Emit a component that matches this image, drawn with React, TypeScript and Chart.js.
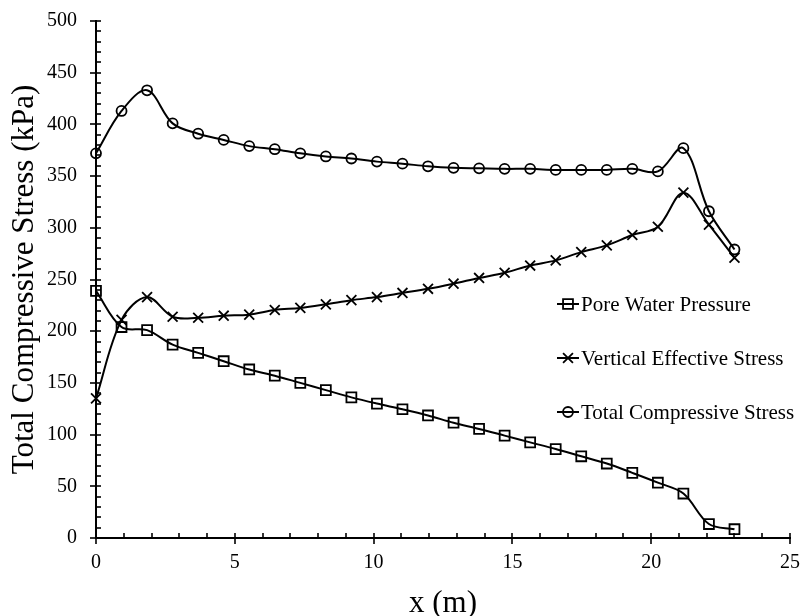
import React, { useEffect, useRef } from "react";
import { Chart, registerables } from "chart.js";

Chart.register(...registerables);

// Distance along the section (m)
const xPositions = [
  0, 0.92, 1.84, 2.76, 3.68, 4.6, 5.52, 6.44, 7.36, 8.28, 9.2, 10.12, 11.04,
  11.96, 12.88, 13.8, 14.72, 15.64, 16.56, 17.48, 18.4, 19.32, 20.24, 21.16,
  22.08, 23,
];

// Stresses (kPa)
const porePressure = [
  239, 204, 201, 187, 179, 171, 163, 157, 150, 143, 136, 130, 124.5, 118.5,
  111.5, 105.5, 99, 92.5, 86, 79, 72, 63, 53.5, 43, 13.5, 8.5,
];
const effectiveStress = [
  135, 211, 233, 214, 213, 215, 216, 220.5, 222.5, 226, 230, 233, 237, 241, 246,
  251.5, 256.5, 263.5, 268.5, 276.5, 283, 293, 301, 334, 303, 271,
];
const totalStress = [
  372, 413, 433, 401, 391, 385, 379, 376, 372, 369, 367, 364, 362, 359.5, 358,
  357.5, 357, 357, 356, 356, 356, 357, 354.5, 377, 316, 279,
];

const seriesNames = [
  "Pore Water Pressure",
  "Vertical Effective Stress",
  "Total Compressive Stress",
];

const xTickValues = [0, 5, 10, 15, 20, 25];
const yTickValues = [0, 50, 100, 150, 200, 250, 300, 350, 400, 450, 500];

const SERIF = '"Liberation Serif", "Times New Roman", serif';

const toPoints = (ys: number[]) => xPositions.map((x, i) => ({ x, y: ys[i] }));

// Same marker shapes as Chart.js uses for rect / crossRot / circle
function drawMarker(ctx: CanvasRenderingContext2D, style: string, r: number, x: number, y: number) {
  ctx.beginPath();
  if (style === "rect") {
    const s = Math.SQRT1_2 * r;
    ctx.rect(x - s, y - s, 2 * s, 2 * s);
  } else if (style === "crossRot") {
    const s = Math.SQRT1_2 * r;
    ctx.moveTo(x - s, y - s);
    ctx.lineTo(x + s, y + s);
    ctx.moveTo(x - s, y + s);
    ctx.lineTo(x + s, y - s);
  } else {
    ctx.arc(x, y, r, 0, Math.PI * 2);
  }
  ctx.stroke();
}

// Axis lines with crossing major ticks and inward minor ticks, plus the
// in-plot legend with line-through markers.
const axesAndLegend = {
  id: "axesAndLegend",
  afterDraw(chart: any) {
    const { ctx, chartArea } = chart;
    const xs = chart.scales.x;
    const ys = chart.scales.y;
    const left = chartArea.left;
    const bottom = chartArea.bottom;
    ctx.save();
    ctx.strokeStyle = "#000";
    ctx.lineCap = "butt";

    ctx.lineWidth = 1.6;
    for (let v = 0; v <= 25; v += 1) {
      const px = Math.round(xs.getPixelForValue(v));
      const major = v % 5 === 0;
      ctx.beginPath();
      ctx.moveTo(px, bottom - 5);
      ctx.lineTo(px, major ? bottom + 6 : bottom);
      ctx.stroke();
    }
    for (let v = 0; v <= 500; v += 10) {
      const py = Math.round(ys.getPixelForValue(v));
      const major = v % 50 === 0;
      ctx.beginPath();
      ctx.moveTo(major ? left - 6 : left, py);
      ctx.lineTo(left + 5, py);
      ctx.stroke();
    }

    ctx.lineWidth = 2;
    ctx.beginPath();
    ctx.moveTo(left, chartArea.top - 1);
    ctx.lineTo(left, bottom);
    ctx.lineTo(chartArea.right + 1, bottom);
    ctx.stroke();

    // legend
    const legendX = 568;
    const legendY = [304, 358, 412];
    chart.data.datasets.forEach((ds: any, i: number) => {
      const y = legendY[i];
      ctx.strokeStyle = "#000";
      ctx.lineWidth = 2;
      ctx.beginPath();
      ctx.moveTo(legendX - 11, y);
      ctx.lineTo(legendX + 11, y);
      ctx.stroke();
      ctx.lineWidth = ds.pointBorderWidth;
      drawMarker(ctx, ds.pointStyle, ds.pointRadius, legendX, y);
      ctx.fillStyle = "#000";
      ctx.font = `21px ${SERIF}`;
      ctx.textAlign = "left";
      ctx.textBaseline = "middle";
      ctx.fillText(ds.label, legendX + 13, y + 1);
    });
    ctx.restore();
  },
};

const lineDataset = (label: string, ys: number[], style: string, radius: number) => ({
  label,
  data: toPoints(ys),
  borderColor: "#000",
  borderWidth: 2,
  backgroundColor: "rgba(0,0,0,0)",
  pointStyle: style,
  pointRadius: radius,
  pointBorderColor: "#000",
  pointBackgroundColor: "rgba(0,0,0,0)",
  pointBorderWidth: 1.8,
  tension: 0.35,
  fill: false,
  clip: false,
});

export default function App() {
  const canvasRef = useRef<HTMLCanvasElement | null>(null);

  useEffect(() => {
    if (!canvasRef.current) return;
    const chart = new Chart(canvasRef.current, {
      type: "line",
      data: {
        datasets: [
          lineDataset(seriesNames[0], porePressure, "rect", 7),
          lineDataset(seriesNames[1], effectiveStress, "crossRot", 7),
          lineDataset(seriesNames[2], totalStress, "circle", 5),
        ],
      },
      plugins: [axesAndLegend],
      options: {
        animation: false,
        responsive: false,
        devicePixelRatio: 1,
        layout: { padding: { top: 21, right: 10, left: 0, bottom: 0 } },
        plugins: {
          legend: { display: false },
          tooltip: { enabled: false },
        },
        scales: {
          x: {
            type: "linear",
            min: 0,
            max: 25,
            afterFit: (s: any) => {
              s.height = 78;
              s.paddingLeft = 0;
              s.paddingRight = 0;
            },
            afterBuildTicks: (s: any) => {
              s.ticks = xTickValues.map((v) => ({ value: v }));
            },
            grid: { display: false, drawTicks: false },
            border: { display: false },
            ticks: {
              color: "#000",
              padding: 13,
              maxRotation: 0,
              font: { family: SERIF, size: 20 },
            },
            title: {
              display: true,
              text: "x (m)",
              color: "#000",
              font: { family: SERIF, size: 31, lineHeight: 0.8 },
              padding: 0,
            },
          },
          y: {
            type: "linear",
            min: 0,
            max: 500,
            afterFit: (s: any) => {
              s.width = 96;
              s.paddingTop = 0;
              s.paddingBottom = 0;
            },
            afterBuildTicks: (s: any) => {
              s.ticks = yTickValues.map((v) => ({ value: v }));
            },
            grid: { display: false, drawTicks: false },
            border: { display: false },
            ticks: {
              color: "#000",
              padding: 19,
              font: { family: SERIF, size: 20 },
            },
            title: {
              display: true,
              text: "Total Compressive Stress (kPa)",
              color: "#000",
              font: { family: SERIF, size: 31, lineHeight: 1.2 },
              padding: { top: 6, bottom: 0 },
            },
          },
        },
      },
    } as any);
    return () => chart.destroy();
  }, []);

  return (
    <div style={{ position: "absolute", left: 0, top: 0, width: 800, height: 616, background: "#fff" }}>
      <canvas ref={canvasRef} width={800} height={616} style={{ display: "block" }} />
    </div>
  );
}
